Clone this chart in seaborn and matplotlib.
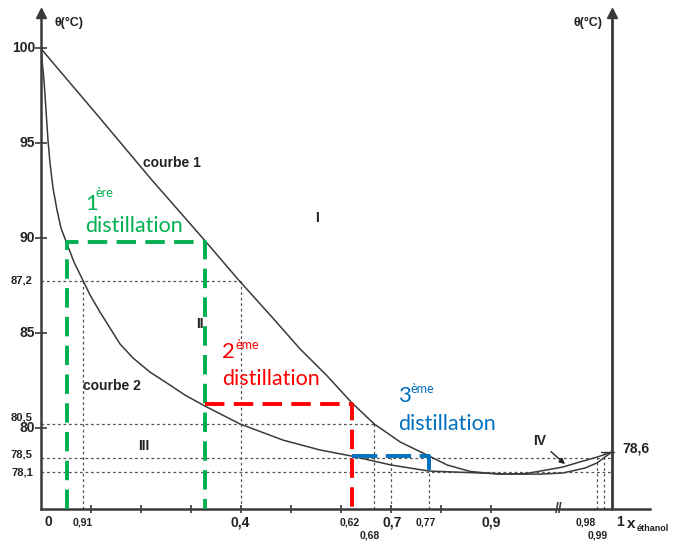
# Diagramme binaire eau / ethanol : distillations successives
import numpy as np
import seaborn as sns
import matplotlib.pyplot as plt

x_courbe1 = [0, 0.119, 0.219, 0.329, 0.397, 0.459, 0.519, 0.571, 0.622, 0.667,
             0.719, 0.773, 0.813, 0.859, 0.889, 0.901, 0.913, 0.942, 0.960, 0.981, 1.0]
T_courbe1 = [100, 96.31, 93.17, 89.86, 87.77, 85.96, 84.17, 82.81, 81.35, 80.23,
             79.28, 78.59, 78.07, 77.73, 77.65, 77.59, 77.62, 77.96, 78.23, 78.49, 78.75]
x_courbe2 = [0, 0.0026, 0.0066, 0.0106, 0.0146, 0.0186, 0.0246, 0.0326, 0.0406,
             0.052, 0.0666, 0.0852, 0.0986, 0.1186, 0.1386, 0.1586, 0.1846, 0.2186,
             0.2526, 0.2886, 0.3286, 0.3986, 0.4846, 0.5586, 0.622, 0.7006, 0.7766,
             0.8586, 0.905, 0.9224, 0.9424, 0.966, 0.9806, 1.0]
T_courbe2 = [100, 99.38, 98.33, 96.75, 95.17, 93.96, 92.65, 91.49, 90.54,
             89.75, 88.75, 87.75, 87.02, 86.12, 85.28, 84.44, 83.70, 82.96,
             82.38, 81.75, 81.17, 80.23, 79.38, 78.86, 78.54, 78.07, 77.75,
             77.67, 77.59, 77.59, 77.65, 77.91, 78.18, 78.75]

# Paliers des trois distillations
green_x = [0.052, 0.052, 0.329, 0.329]
green_T = [75.78, 89.81, 89.81, 75.78]
red_x = [0.329, 0.622, 0.622]
red_T = [81.28, 81.28, 75.78]
blue_x = [0.622, 0.777, 0.777]
blue_T = [78.52, 78.52, 77.83]

# Lignes de rappel
level_T = [87.77, 80.21, 78.45, 77.70]
level_end = [0.4, 0.667, 1.0, 1.0]
level_txt = ["87,2", "80,5", "78,5", "78,1"]
level_txt_T = [87.77, 80.55, 78.6, 77.7]
vert_x = [0.085, 0.4, 0.667, 0.7, 0.777, 0.98, 0.99]
vert_top = [87.77, 87.77, 80.21, 78.45, 77.70, 78.45, 78.75]

y_ticks = [100, 95, 90, 85, 80]
x_minor = [0.1, 0.2, 0.3, 0.4, 0.5, 0.6, 0.7, 0.8, 0.9]
x_lab_pos = [0.0146, 0.0836, 0.3986, 0.6186, 0.6586, 0.7026, 0.7706, 0.9, 0.967, 0.982]
x_lab_txt = ["0", "0,91", "0,4", "0,62", "0,68", "0,7", "0,77", "0,9", "0,98", "0,99"]
x_lab_big = [True, False, True, False, False, True, False, True, False, False]
x_lab_low = [False, False, False, False, True, False, False, False, False, True]

T_min, T_max = 75.78, 101.86
x_max = 1.058


# axe x coupe apres 0,9 (echelle compressee)
def fwd(x):
    x = np.asarray(x, dtype=float)
    r = np.clip((x - 0.9) / 0.1, 0, None)
    return np.where(x <= 0.9, x, 0.9 + 0.242 * r ** 0.6)


def inv(u):
    u = np.asarray(u, dtype=float)
    r = np.clip((u - 0.9) / 0.242, 0, None)
    return np.where(u <= 0.9, u, 0.9 + 0.1 * r ** (1 / 0.6))


sns.set_theme(style="white")
plt.rcParams["font.family"] = ["Liberation Sans", "DejaVu Sans"]

fig = plt.figure(figsize=(6.76, 5.42), dpi=100)
ax = fig.add_axes([0.0602, 0.0618, 0.9013, 0.9142])

dark = "#3a3a3a"
sns.lineplot(x=x_courbe1, y=T_courbe1, sort=False, estimator=None, color=dark, lw=1.1, ax=ax)
sns.lineplot(x=x_courbe2, y=T_courbe2, sort=False, estimator=None, color=dark, lw=1.1, ax=ax)

ax.set_xscale("function", functions=(fwd, inv))
ax.set_xlim(0, x_max)
ax.set_ylim(T_min, T_max)

# lignes pointillees
dot = dict(color="#555555", lw=0.9, ls=(0, (2.2, 2.2)), zorder=1)
for t, xe in zip(level_T, level_end):
    ax.plot([0, xe], [t, t], **dot)
for xv, tv in zip(vert_x, vert_top):
    ax.plot([xv, xv], [T_min, tv], **dot)

# distillations
dash = (0, (5, 2.4))
ax.plot(green_x, green_T, color="#00B050", lw=2.8, ls=dash, zorder=3)
ax.plot(red_x, red_T, color="#FF0000", lw=2.8, ls=dash, zorder=3)
ax.plot(blue_x, blue_T, color="#0070C0", lw=2.8, ls=(0, (6.5, 2.2)), zorder=3)

# axes
for s in ["top", "right"]:
    ax.spines[s].set_visible(False)
for s in ["left", "bottom"]:
    ax.spines[s].set_color(dark)
    ax.spines[s].set_linewidth(1.8)
ax.plot(0, 1, "^", color=dark, ms=7, transform=ax.get_xaxis_transform(), clip_on=False)
ax.plot(1, 0, ">", color=dark, ms=7, transform=ax.get_yaxis_transform(), clip_on=False)
ax.plot([1.0, 1.0], [T_min, T_max - 0.3], color=dark, lw=2.0, clip_on=False)
ax.plot(1.0, 1, "^", color=dark, ms=7, transform=ax.get_xaxis_transform(), clip_on=False)
ax.plot([0.985, 1.003], [78.75, 78.75], color=dark, lw=1.0)

ax.set_yticks(y_ticks)
ax.set_yticklabels([])
ax.set_xticks(x_minor)
ax.set_xticklabels([])
ax.tick_params(axis="y", direction="inout", length=8, width=1.2, color=dark, left=True)
ax.tick_params(axis="x", direction="inout", length=6, width=1.2, color=dark, bottom=True)
ax.grid(False)

ytr = ax.get_yaxis_transform()
for t in y_ticks:
    ax.text(-0.009, t, str(t), transform=ytr, ha="right", va="center",
            fontsize=10, fontweight="bold", color="#222222")
for t, s in zip(level_txt_T, level_txt):
    ax.text(-0.013, t, s, transform=ytr, ha="right", va="center",
            fontsize=8, fontweight="bold", color="#222222")

xtr = ax.get_xaxis_transform()
for p, s, big, low in zip(x_lab_pos, x_lab_txt, x_lab_big, x_lab_low):
    ax.text(p, -0.055 if low else -0.028, s, transform=xtr, ha="center", va="center",
            fontsize=10 if big else 7.5, fontweight="bold", color="#222222")
ax.text(1.0117, -0.027, "1", transform=xtr, ha="center", va="center",
        fontsize=10, fontweight="bold", color="#222222")
ax.text(1.022, -0.032, "x", transform=xtr, ha="left", va="center",
        fontsize=11, fontweight="bold", color="#222222")
ax.text(1.036, -0.04, "éthanol", transform=xtr, ha="left", va="center",
        fontsize=6.5, fontweight="bold", color="#222222")
ax.text(0.938, 0, "//", transform=xtr, ha="center", va="center",
        fontsize=10, fontweight="bold", color=dark)

ax.text(0.0286, 101.33, "θ(°C)", ha="left", va="center", fontsize=9, fontweight="bold", color="#222222")
ax.text(0.988, 101.33, "θ(°C)", ha="right", va="center", fontsize=9, fontweight="bold", color="#222222")
ax.text(1.0146, 78.95, "78,6", ha="left", va="center", fontsize=10, fontweight="bold", color="#222222")

lab = dict(fontsize=10, fontweight="bold", color="#222222", va="baseline")
ax.text(0.2046, 93.75, "courbe 1", ha="left", **lab)
ax.text(0.0846, 82.02, "courbe 2", ha="left", **lab)
ax.text(0.552, 90.86, "I", ha="center", **lab)
ax.text(0.318, 85.28, "II", ha="center", **lab)
ax.text(0.2066, 78.86, "III", ha="center", **lab)
ax.annotate("IV", xy=(0.9464, 78.02), xytext=(0.9217, 79.12), ha="center", **lab,
            arrowprops=dict(arrowstyle="-|>", color="#222222", lw=1.0, mutation_scale=8))

# textes colores
col = [("#00B050", 0.0886, 91.49, "1ère", 0.1086, 92.17, 90.33),
       ("#FF0000", 0.3626, 83.70, "2ème", 0.3886, 84.17, 82.28),
       ("#0070C0", 0.7146, 81.38, "3ème", 0.7386, 81.86, 79.91)]
for c, x0, t0, s, xs, ts, td in col:
    ax.text(x0, t0, s[0], color=c, fontsize=16, family=["Lato", "DejaVu Sans"], va="baseline")
    ax.text(xs, ts, s[1:], color=c, fontsize=9, family=["Lato", "DejaVu Sans"], va="baseline")
    ax.text(x0, td, "distillation", color=c, fontsize=15.5, family=["Lato", "DejaVu Sans"], va="baseline")

fig.savefig("out.png", dpi=100)
